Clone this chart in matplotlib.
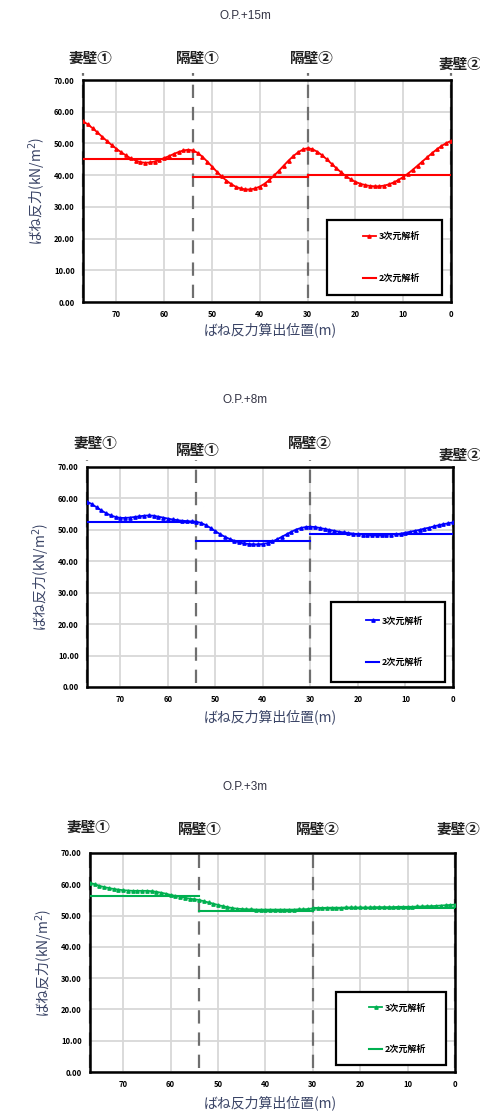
import numpy as np
import matplotlib
matplotlib.use("Agg")
from matplotlib import pyplot as plt
from matplotlib.patches import Rectangle

plt.rcParams['font.family'] = ['Noto Sans CJK JP', 'DejaVu Sans']

# positions of the 3D analysis points (m), from wall 妻壁① (77) to 妻壁② (0)
x3d = list(range(77, -1, -1))

# O.P.+15m
red_3d = [57.0, 56.0, 54.8, 53.5, 52.1, 50.8, 49.5, 48.3, 47.2, 46.2,
          45.3, 44.6, 44.1, 43.9, 44.0, 44.3, 44.8, 45.4, 46.0, 46.7,
          47.3, 47.8, 48.0, 47.8, 47.0, 45.8, 44.3, 42.7, 41.1, 39.6,
          38.3, 37.2, 36.3, 35.8, 35.5, 35.5, 35.8, 36.4, 37.3, 38.5,
          39.9, 41.4, 43.0, 44.6, 46.0, 47.2, 48.1, 48.5, 48.2, 47.4,
          46.3, 45.0, 43.6, 42.2, 40.9, 39.7, 38.7, 37.9, 37.3, 36.9,
          36.6, 36.5, 36.5, 36.7, 37.1, 37.7, 38.5, 39.4, 40.5, 41.7,
          43.0, 44.3, 45.6, 46.9, 48.1, 49.2, 50.1, 50.8]
red_2d = [45.2, 39.3, 39.9]

# O.P.+8m
blue_3d = [59.0, 58.2, 57.2, 56.2, 55.3, 54.6, 54.1, 53.8, 53.8, 53.9,
           54.1, 54.3, 54.5, 54.6, 54.5, 54.2, 53.9, 53.6, 53.3, 53.1,
           52.9, 52.8, 52.7, 52.6, 52.2, 51.5, 50.6, 49.6, 48.6, 47.8,
           47.1, 46.5, 46.0, 45.7, 45.5, 45.4, 45.4, 45.5, 45.8, 46.3,
           47.0, 47.8, 48.6, 49.4, 50.1, 50.6, 50.9, 51.0, 50.9, 50.6,
           50.3, 50.0, 49.7, 49.4, 49.2, 49.0, 48.8, 48.6, 48.5, 48.4,
           48.3, 48.3, 48.3, 48.4, 48.5, 48.6, 48.8, 49.1, 49.4, 49.7,
           50.0, 50.4, 50.7, 51.1, 51.5, 51.8, 52.1, 52.4]
blue_2d = [52.6, 46.5, 48.6]

# O.P.+3m
green_3d = [60.5, 60.0, 59.5, 59.1, 58.8, 58.5, 58.3, 58.1, 58.0, 57.9,
            57.9, 57.9, 57.9, 57.8, 57.6, 57.3, 57.0, 56.6, 56.3, 56.0,
            55.7, 55.4, 55.2, 55.0, 54.6, 54.2, 53.8, 53.4, 53.0, 52.7,
            52.4, 52.2, 52.1, 52.0, 52.0, 51.9, 51.9, 51.9, 51.9, 51.9,
            51.9, 51.9, 51.9, 51.9, 52.0, 52.0, 52.1, 52.3, 52.4, 52.4,
            52.5, 52.5, 52.5, 52.5, 52.6, 52.6, 52.6, 52.6, 52.6, 52.6,
            52.7, 52.7, 52.7, 52.7, 52.7, 52.8, 52.8, 52.8, 52.8, 52.9,
            52.9, 53.0, 53.0, 53.1, 53.2, 53.3, 53.4, 53.5]
green_2d = [56.1, 51.4, 52.4]

walls = [77, 54, 30, 0]
wall_names = ['妻壁①', '隔壁①', '隔壁②', '妻壁②']
xticks = [70, 60, 50, 40, 30, 20, 10, 0]
yticks = [0, 10, 20, 30, 40, 50, 60, 70]

W, H = 481, 1117
fig = plt.figure(figsize=(W / 100, H / 100), dpi=100)


def fx(px):
    return px / W


def fy(py):
    return 1 - py / H


panels = [
    # title, 3d, 2d, color, axes box (left, top, right, bottom px), title y,
    # wall label positions, x label y, legend box (axes coords)
    ('O.P.+15m', red_3d, red_2d, '#ff0000', (83, 80, 451, 302), 16,
     [(90, 58), (198, 58), (312, 58), (460, 64)], 330, (0.663, 0.032, 0.313, 0.338)),
    ('O.P.+8m', blue_3d, blue_2d, '#0000ff', (87, 467, 453, 687), 400,
     [(95, 443), (198, 450), (310, 443), (460, 455)], 717, (0.667, 0.025, 0.31, 0.36)),
    ('O.P.+3m', green_3d, green_2d, '#00b050', (90, 853, 455, 1072), 787,
     [(88, 827), (200, 829), (318, 829), (458, 829)], 1103, (0.675, 0.03, 0.3, 0.335)),
]

text_col = '#3a4466'

for title, v3, v2, col, box, ty, lab_pos, xly, legbox in panels:
    l, t, r, b = box
    ax = fig.add_axes([fx(l), fy(b), (r - l) / W, (b - t) / H])

    ax.grid(True, color='#d8d8d8', linewidth=1.3)
    ax.set_axisbelow(True)

    # wall positions
    for w in walls:
        ax.axvline(w, ymin=0.02, ymax=1.03, color='#6f6f6f', linewidth=1.6,
                   dashes=(6, 4), clip_on=False, zorder=1)

    l3, = ax.plot(x3d, v3, color=col, linewidth=1.3, marker='^',
                  markersize=2.4, zorder=3)
    for i in range(3):
        l2, = ax.plot([walls[i], walls[i + 1]], [v2[i], v2[i]], color=col,
                      linewidth=1.5, zorder=3)

    ax.set_xlim(77, 0)
    ax.set_ylim(0, 70)
    ax.set_xticks(xticks)
    ax.set_yticks(yticks)
    ax.set_xticklabels([str(v) for v in xticks], fontsize=5.5, fontweight='bold')
    ax.set_yticklabels(['%.2f' % v for v in yticks], fontsize=5.5, fontweight='bold')
    ax.tick_params(length=0, pad=6)
    for s in ax.spines.values():
        s.set_linewidth(1.8)
        s.set_color('black')

    ax.set_ylabel('ばね反力(kN/m$^2$)', fontsize=10, color=text_col, labelpad=4)

    fig.text(fx(270), fy(xly), 'ばね反力算出位置(m)', fontsize=10,
             color=text_col, ha='center', va='center')
    fig.text(fx(245), fy(ty), title, fontsize=8.5, color='#334',
             ha='center', va='center', family='Liberation Sans')
    for name, (px, py) in zip(wall_names, lab_pos):
        fig.text(fx(px), fy(py), name, fontsize=10.5, fontweight='bold',
                 color='#222', ha='center', va='center')

    # legend frame drawn separately, entries centred slightly right in it
    bx, by, bw, bh = legbox
    ax.add_patch(Rectangle((bx, by), bw, bh, transform=ax.transAxes,
                           facecolor='white', edgecolor='black',
                           linewidth=1.6, zorder=5))
    leg = ax.legend([l3, l2], ['3次元解析', '2次元解析'], loc='center',
                    bbox_to_anchor=(bx + bw * 0.56, by + bh / 2),
                    frameon=False, labelspacing=3.6, handlelength=1.4,
                    handletextpad=0.3, prop={'weight': 'bold', 'size': 6.5})
    leg.set_zorder(6)

fig.savefig('out.png', dpi=100)
